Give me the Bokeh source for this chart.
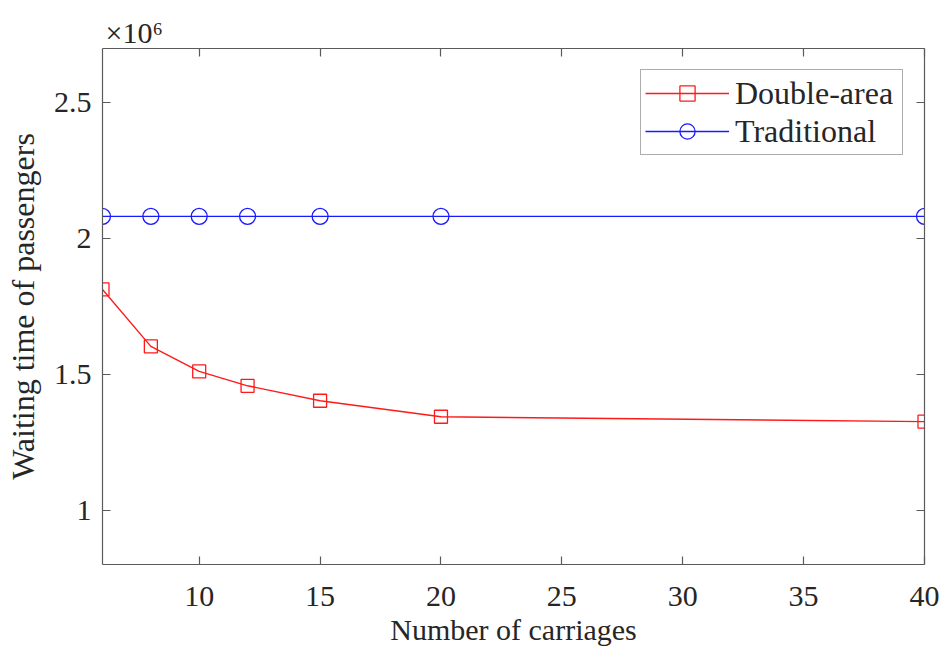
from bokeh.plotting import figure
from bokeh.models import (ColumnDataSource, Range1d, LinearAxis, FixedTicker,
                          CustomJSTickFormatter, Legend, LegendItem, Title)
from bokeh.embed import file_html
from bokeh.resources import INLINE

# ---- data ----
carriages = [6, 8, 10, 12, 15, 20, 40]
double_area = [1.813e6, 1.603e6, 1.511e6, 1.458e6, 1.403e6, 1.344e6, 1.326e6]
traditional = [2.082e6, 2.082e6, 2.082e6, 2.082e6, 2.082e6, 2.082e6, 2.082e6]
x_ticks = [10, 15, 20, 25, 30, 35, 40]
y_ticks = [1.0e6, 1.5e6, 2.0e6, 2.5e6]
series_names = ["Double-area", "Traditional"]

FONT = "Liberation Serif"
AX = "#5a5a5a"
TXT = "#262626"
RED = "#ff1a1a"
BLUE = "#1a1aff"

p = figure(width=944, height=655, output_backend="svg", toolbar_location=None,
           x_range=Range1d(6, 40), y_range=Range1d(0.8e6, 2.7e6),
           min_border_left=102, min_border_right=20, min_border_top=48,
           min_border_bottom=91)
p.grid.visible = False
p.outline_line_color = None
p.background_fill_color = "white"

fmt = CustomJSTickFormatter(code="return (tick/1e6).toString();")

def style(ax, show_labels=True):
    ax.axis_line_color = AX
    ax.axis_line_width = 1.2
    ax.major_tick_line_color = AX
    ax.major_tick_line_width = 1.2
    ax.major_tick_in = 8
    ax.major_tick_out = 0
    ax.minor_tick_line_color = None
    ax.major_label_text_font = FONT
    ax.major_label_text_color = TXT
    ax.axis_label_text_font = FONT
    ax.axis_label_text_font_style = "normal"
    ax.axis_label_text_color = TXT
    if show_labels:
        ax.major_label_text_font_size = "30px"
        ax.axis_label_text_font_size = "30px"
    else:
        ax.major_label_text_font_size = "0px"
        ax.major_label_text_alpha = 0

xa = p.xaxis[0]
xa.ticker = FixedTicker(ticks=x_ticks)
xa.axis_label = "Number of carriages"
style(xa)
xa.major_label_standoff = 22
xa.axis_label_standoff = 4

ya = p.yaxis[0]
ya.ticker = FixedTicker(ticks=y_ticks)
ya.formatter = fmt
ya.axis_label = "Waiting time of passengers"
style(ya)
ya.axis_label_text_font_size = "32px"
ya.major_label_standoff = 11
ya.axis_label_standoff = 10

top = LinearAxis(ticker=FixedTicker(ticks=x_ticks))
style(top, False)
top.major_label_standoff = 0
p.add_layout(top, "above")
right = LinearAxis(ticker=FixedTicker(ticks=y_ticks))
style(right, False)
right.major_label_standoff = 0
p.add_layout(right, "right")

src = ColumnDataSource(dict(x=carriages, d=double_area, t=traditional))
r1 = p.line("x", "d", source=src, line_color=RED, line_width=1.4)
m1 = p.scatter("x", "d", source=src, marker="square", size=13,
               fill_color=None, line_color=RED, line_width=1.3)
r2 = p.line("x", "t", source=src, line_color=BLUE, line_width=1.4)
m2 = p.scatter("x", "t", source=src, marker="circle", size=16,
               fill_color=None, line_color=BLUE, line_width=1.3)

legend = Legend(items=[LegendItem(label=series_names[0], renderers=[r1, m1]),
                       LegendItem(label=series_names[1], renderers=[r2, m2])],
                location="top_right")
legend.margin = 21
legend.padding = 4
legend.spacing = 0
legend.glyph_width = 84
legend.glyph_height = 38
legend.label_height = 38
legend.label_width = 163
legend.label_standoff = 6
legend.label_text_font = FONT
legend.label_text_font_size = "32px"
legend.label_text_color = TXT
legend.border_line_color = AX
legend.border_line_width = 1.2
legend.background_fill_color = "white"
legend.background_fill_alpha = 1
p.add_layout(legend, "center")

# multiplier shown above the top-left corner of the axes
mult = Title(text="×10⁶", align="left", offset=3, standoff=0,
             text_font=FONT, text_font_size="30px", text_color=TXT,
             text_font_style="normal")
p.add_layout(mult, "above")

open("out.html", "w").write(file_html(p, INLINE))
